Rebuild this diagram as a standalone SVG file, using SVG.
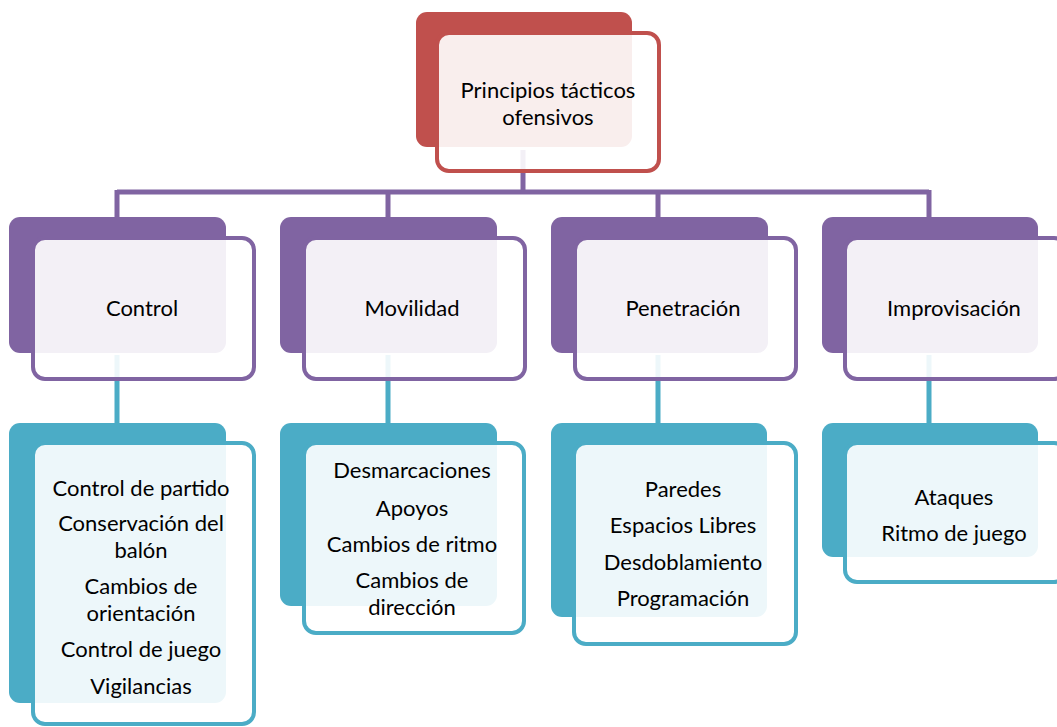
<svg xmlns="http://www.w3.org/2000/svg" width="1057" height="727" viewBox="0 0 1057 727">
<style>
text{font-family:Lato,"Liberation Sans",sans-serif;font-size:22px;fill:#000;text-anchor:middle;dominant-baseline:central}
.fr{fill:#fff;fill-opacity:0.9;stroke-width:4}
.red .bk{fill:#C0504D}.red .fr{stroke:#C0504D}
.pur .bk{fill:#8064A2}.pur .fr{stroke:#8064A2}
.tea .bk{fill:#4BACC6}.tea .fr{stroke:#4BACC6}
.cp{stroke:#8064A2;stroke-width:5;fill:none}
.ct{stroke:#4BACC6;stroke-width:5;fill:none}
</style>
<rect width="1057" height="727" fill="#fff"/>
<g id="connectors">
<path class="cp" d="M523,150V192M117,192H929M117,190V220M388,190V220M658,190V220M929,190V220"/>
<path class="ct" d="M117,355V424M388,355V424M658,355V424M929,355V424"/>
</g>
<g id="n0" class="red">
<rect class="bk" x="416" y="12" width="216" height="135" rx="11"/>
<rect class="fr" x="437" y="33" width="222" height="138" rx="12"/>
<text x="548" y="89">Principios tácticos</text>
<text x="548" y="116">ofensivos</text>
</g>
<g id="n1" class="pur">
<rect class="bk" x="9" y="217" width="217" height="136" rx="11"/>
<rect class="fr" x="33" y="238" width="221" height="141" rx="12"/>
<text x="142" y="307">Control</text>
</g>
<g id="n2" class="pur">
<rect class="bk" x="280" y="217" width="217" height="136" rx="11"/>
<rect class="fr" x="304" y="238" width="221" height="141" rx="12"/>
<text x="412" y="307">Movilidad</text>
</g>
<g id="n3" class="pur">
<rect class="bk" x="551" y="217" width="217" height="136" rx="11"/>
<rect class="fr" x="575" y="238" width="221" height="141" rx="12"/>
<text x="683" y="307">Penetración</text>
</g>
<g id="n4" class="pur">
<rect class="bk" x="822" y="217" width="216" height="136" rx="11"/>
<rect class="fr" x="845" y="238" width="221" height="141" rx="12"/>
<text x="954" y="307">Improvisación</text>
</g>
<g id="n5" class="tea">
<rect class="bk" x="9" y="423" width="217" height="280" rx="11"/>
<rect class="fr" x="33" y="443" width="221" height="281" rx="12"/>
<text x="141" y="487">Control de partido</text>
<text x="141" y="522">Conservación del</text>
<text x="141" y="549">balón</text>
<text x="141" y="585">Cambios de</text>
<text x="141" y="612">orientación</text>
<text x="141" y="648">Control de juego</text>
<text x="141" y="685">Vigilancias</text>
</g>
<g id="n6" class="tea">
<rect class="bk" x="280" y="423" width="217" height="183" rx="11"/>
<rect class="fr" x="304" y="443" width="220" height="190" rx="12"/>
<text x="412" y="469">Desmarcaciones</text>
<text x="412" y="507">Apoyos</text>
<text x="412" y="543">Cambios de ritmo</text>
<text x="412" y="579">Cambios de</text>
<text x="412" y="606">dirección</text>
</g>
<g id="n7" class="tea">
<rect class="bk" x="551" y="423" width="216" height="194" rx="11"/>
<rect class="fr" x="574" y="443" width="222" height="201" rx="12"/>
<text x="683" y="488">Paredes</text>
<text x="683" y="524">Espacios Libres</text>
<text x="683" y="561">Desdoblamiento</text>
<text x="683" y="597">Programación</text>
</g>
<g id="n8" class="tea">
<rect class="bk" x="822" y="423" width="216" height="134" rx="11"/>
<rect class="fr" x="845" y="443" width="221" height="139" rx="12"/>
<text x="954" y="496">Ataques</text>
<text x="954" y="532">Ritmo de juego</text>
</g>
</svg>
